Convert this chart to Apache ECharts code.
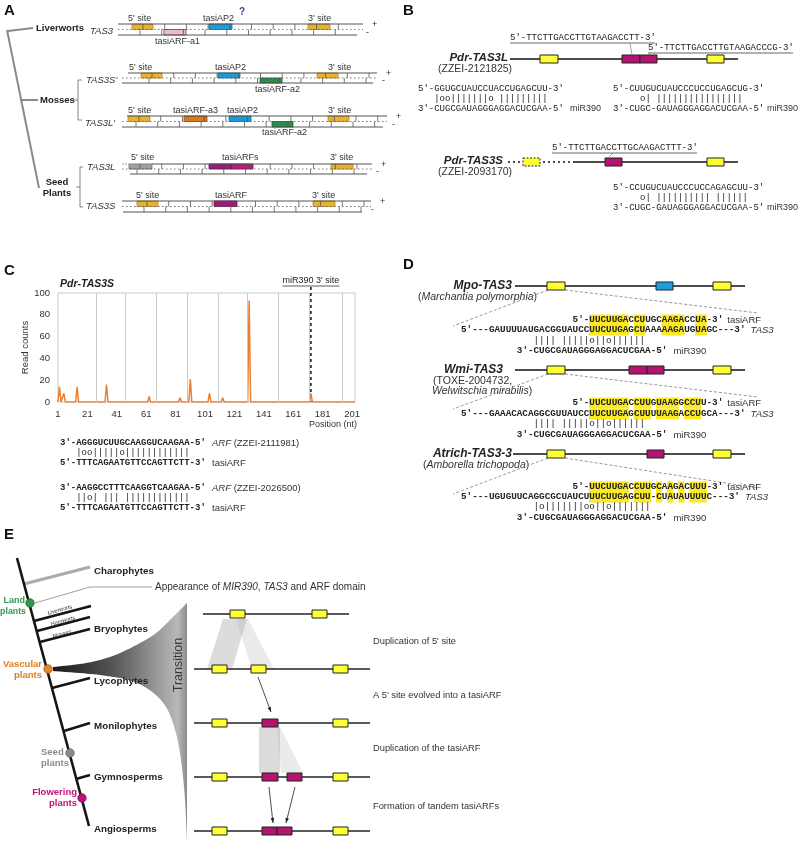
<!DOCTYPE html>
<html><head><meta charset="utf-8">
<script src="https://cdn.jsdelivr.net/npm/echarts@6/dist/echarts.min.js"></script>
<style>html,body{margin:0;padding:0;background:#fff}#c{width:799px;height:850px}</style>
</head><body><div id="c"></div>
<script>
// ---------------- Panel C data ----------------
const chartTitle = 'Pdr-TAS3S';
const positions  = [1,2,3,4,5,6,8,9,10,13,14,15,33,34,35,62,63,64,83,84,85,90,91,92,103,104,105,112,113,114,130,131,132,151,152,153,172,173,174,203];
const readCounts = [0,14,0,0,8,0,0,1,0,0,14,0,0,16,0,0,5,0,0,4,0,0,21,0,0,8,0,0,4,0,0,93,0,0,1,0,0,8,0,0];
const xMin = 1, xMax = 203, xStep = 20;
const yMin = 0, yMax = 100, yStep = 20;
const gridPositions = [27,47,68,89,110,130,151,172,194];
const mir390Site = 173;

// ---------------- sequences ----------------
const seqB = {
  tasiL1: "5'-TTCTTGACCTTGTAAGACCTT-3'",
  tasiL2: "5'-TTCTTGACCTTGTAAGACCCG-3'",
  tasiS:  "5'-TTCTTGACCTTGCAAGACTTT-3'",
  a1: ["5'-GGUGCUAUCCUACCUGAGCUU-3'", "|oo|||||||o |||||||||", "3'-CUGCGAUAGGGAGGACUCGAA-5'"],
  a2: ["5'-CUUGUCUAUCCCUCCUGAGCUG-3'", "o| ||||||||||||||||", "3'-CUGC-GAUAGGGAGGACUCGAA-5'"],
  a3: ["5'-CCUGUCUAUCCCUCCAGAGCUU-3'", "o| |||||||||| ||||||", "3'-CUGC-GAUAGGGAGGACUCGAA-5'"]
};
const seqC = [
  ["3'-AGGGUCUUGCAAGGUCAAGAA-5'", "|oo|||||o||||||||||||", "5'-TTTCAGAATGTTCCAGTTCTT-3'", "(ZZEI-2111981)"],
  ["3'-AAGGCCTTTCAAGGTCAAGAA-5'", "||o| ||| ||||||||||||", "5'-TTTCAGAATGTTCCAGTTCTT-3'", "(ZZEI-2026500)"]
];
const mir390 = "3'-CUGCGAUAGGGAGGACUCGAA-5'";
const seqD = [
  {arf:"UUCUUGACCUUGCAAGACCUA", pre:"GAUUUUAUGACGGUAUCC", al:"UUCUUGAGCUAAAAAGAUGUA", suf:"GC---3'", pair:"|||| |||||o||o||||||"},
  {arf:"UUCUUGACCUUGUAAGGCCUU", pre:"GAAACACAGGCGUUAUCC", al:"UUCUUGAGCUUUUAAGACCUG", suf:"CA---3'", pair:"|||| |||||o||o||||||"},
  {arf:"UUCUUGACCUUGCAAGACUUU", pre:"UGUGUUCAGGCGCUAUCU", al:"UUCUUGAGCUU-CUAUAUUUU", suf:"C---3'",  pair:"|o|||||||oo||o|||||||"}
];

// ---------------- helpers ----------------
const SANS = 'Liberation Sans', MONO = 'Liberation Mono';
const G = [];
function ln(x1,y1,x2,y2,stroke,lw,dash){G.push({type:'line',silent:true,shape:{x1,y1,x2,y2},style:{stroke:stroke||'#000',lineWidth:lw||1,lineDash:dash||null}});}
function rc(x,y,w,h,fill,stroke,lw,dash){G.push({type:'rect',silent:true,shape:{x,y,width:w,height:h},style:{fill:fill||'none',stroke:stroke||null,lineWidth:lw||1,lineDash:dash||null}});}
function pg(points,fill){G.push({type:'polygon',silent:true,shape:{points},style:{fill}});}
function cc(cx,cy,r,fill,stroke){G.push({type:'circle',silent:true,shape:{cx,cy,r},style:{fill,stroke,lineWidth:0.8}});}
function tx(x,y,s,o){
  o=o||{};
  const st={text:s,x:0,y:0,fontFamily:o.ff||SANS,fontSize:o.fs||10,fontWeight:o.fw||'normal',fontStyle:o.fst||'normal',
    fill:o.c||'#222',textAlign:o.al||'left',align:o.al||'left',textVerticalAlign:'middle',verticalAlign:'middle'};
  if(o.rich) st.rich=o.rich;
  G.push({type:'text',silent:true,x,y,rotation:o.rot||0,style:st});
}
function rich(fs,c,fw){return {n:{fontFamily:SANS,fontSize:fs,fill:c,fontWeight:fw||'normal'},
  i:{fontFamily:SANS,fontSize:fs,fill:c,fontStyle:'italic',fontWeight:fw||'normal'}};}
function arrow(x1,y1,x2,y2){
  ln(x1,y1,x2,y2,'#222',0.8);
  const a=Math.atan2(y2-y1,x2-x1),L=5,W=1.8,c=Math.cos(a),s=Math.sin(a);
  pg([[x2,y2],[x2-L*c+W*s,y2-L*s-W*c],[x2-L*c-W*s,y2-L*s+W*c]],'#222');
}
// Catmull-Rom smoothing of an outline
function smooth(pts,n){const out=[];for(let i=0;i<pts.length-1;i++){const p0=pts[Math.max(i-1,0)],p1=pts[i],p2=pts[i+1],p3=pts[Math.min(i+2,pts.length-1)];
  for(let k=0;k<n;k++){const t=k/n,t2=t*t,t3=t2*t;
    out.push([0.5*((2*p1[0])+(-p0[0]+p2[0])*t+(2*p0[0]-5*p1[0]+4*p2[0]-p3[0])*t2+(-p0[0]+3*p1[0]-3*p2[0]+p3[0])*t3),
              0.5*((2*p1[1])+(-p0[1]+p2[1])*t+(2*p0[1]-5*p1[1]+4*p2[1]-p3[1])*t2+(-p0[1]+3*p1[1]-3*p2[1]+p3[1])*t3)]);}}
  out.push(pts[pts.length-1]);return out;}

// panel labels
[['A',4,11],['B',403,11],['C',4,271],['D',403,265],['E',4,535]].forEach(p=>tx(p[1],p[2],p[0],{fs:15,fw:'bold',c:'#111'}));

// ---------------- Panel A ----------------
const AC = {
  Y:['#e8b22e','#b98a1c'], BL:['#1d9bd7','#136f9e'], PK:['#ebbcc6','#7a4050'], GR:['#2e8b4a','#1c5f31'],
  OR:['#d67a1e','#955010'], GY:['#a0a0a0','#707070'], M1:['#9b1b7e','#6a0f56'], M2:['#c0187f','#7a0f55'], MS:['#a0197f','#6a0f56']
};
const gA = '#8a8a8a';
ln(7,30,39,188,gA,2); ln(8,31,33,28,gA,2); ln(21,100,38,100,gA,2);
tx(36,28,'Liverworts',{fs:9.5,fw:'bold'});
tx(40,100,'Mosses',{fs:9.5,fw:'bold'});
tx(57,182,'Seed',{fs:9.5,fw:'bold',al:'center'}); tx(57,193,'Plants',{fs:9.5,fw:'bold',al:'center'});
ln(72,100,78,100,'#666',0.8); ln(78,80,78,120,'#666',0.8); ln(78,80,82,80,'#666',0.8); ln(78,120,82,120,'#666',0.8);
ln(76,187,80,187,'#666',0.8); ln(80,167,80,207,'#666',0.8); ln(80,167,83,167,'#666',0.8); ln(80,207,83,207,'#666',0.8);

const rowsA = [
 {name:'TAS3',nx:90,ny:31,yt:24,yb:35,t:[118,363],b:[118,357],ts:143,
  boxes:[[132,153,'t','Y'],[209,232,'t','BL'],[164,186,'b','PK'],[308,330,'t','Y']],
  labels:[["5' site",128,19],['tasiAP2',203,19],["3' site",308,19],['tasiARF-a1',155,42]]},
 {name:"TAS3S'",nx:86,ny:80,yt:73,yb:83,t:[128,377],b:[122,373],ts:152,
  boxes:[[141,162,'t','Y'],[218,240,'t','BL'],[260,282,'b','GR'],[317,338,'t','Y']],
  labels:[["5' site",129,68],['tasiAP2',215,68],["3' site",328,68],['tasiARF-a2',255,90]]},
 {name:"TAS3L'",nx:85,ny:123,yt:116,yb:127,t:[127,387],b:[122,383],ts:139,
  boxes:[[128,150,'t','Y'],[184,207,'t','OR'],[229,251,'t','BL'],[272,293,'b','GR'],[328,349,'t','Y']],
  labels:[["5' site",128,111],['tasiARF-a3',173,111],['tasiAP2',227,111],["3' site",328,111],['tasiARF-a2',262,133]]},
 {name:'TAS3L',nx:87,ny:167,yt:164,yb:174,t:[152,372],b:[130,367],ts:140,dashStart:122,
  boxes:[[129,152,'t','GY'],[209,231,'t','M1'],[231,253,'t','M2'],[331,353,'t','Y']],
  labels:[["5' site",131,158],['tasiARFs',222,158],["3' site",330,158]]},
 {name:'TAS3S',nx:86,ny:206,yt:201,yb:212,t:[122,371],b:[123,362],ts:147,
  boxes:[[137,158,'t','Y'],[214,237,'t','MS'],[313,335,'t','Y']],
  labels:[["5' site",136,196],['tasiARF',215,196],["3' site",312,196]]}
];
rowsA.forEach(r=>{
  const ym=(r.yt+r.yb)/2, h=(r.yb-r.yt)/2;
  r.boxes.forEach(b=>{const col=AC[b[3]];rc(b[0],b[2]==='t'?r.yt:ym,b[1]-b[0],h,col[0],col[1],0.8);});
  if(r.dashStart) ln(r.dashStart,r.yt,r.t[0],r.yt,'#aaa',1,[2,1]);
  ln(r.t[0],r.yt,r.t[1],r.yt,'#555',1);
  ln(r.b[0],r.yb,r.b[1],r.yb,'#555',1);
  ln(Math.min(r.t[0],r.b[0],r.dashStart||999),ym,Math.max(r.t[1],r.b[1]),ym,'#555',0.8,[1.5,2.5]);
  for(let x=r.ts;x<r.t[1]-4;x+=21.7){ln(x,r.yt,x,ym,'#555',0.8); if(x-3>r.b[0]&&x-3<r.b[1]) ln(x-3,ym,x-3,r.yb,'#555',0.8);}
  r.labels.forEach(l=>tx(l[1],l[2],l[0],{fs:9,c:'#333'}));
  tx(r.nx,r.ny,r.name,{fs:9.5,fst:'italic',c:'#333'});
  tx(r.t[1]+9,r.yt+1,'+',{fs:9,c:'#333'}); tx(r.b[1]+9,r.yb-2,'-',{fs:9,c:'#333'});
});
tx(239,12,'?',{fs:10,fw:'bold',c:'#4b3b9a'});

// ---------------- Panel B ----------------
const YEL='#ffff33', MAG='#b3146f', BLU='#1e9fdc', MONOFS=9, CW=MONOFS*0.6;
function gbox(x0,x1,y,fill,dash){rc(x0,y-4,x1-x0,8,fill,'#222',1,dash||null);}
function mono(x,y,s,o){o=o||{};tx(x,y,s,{ff:MONO,fs:o.fs||MONOFS,fw:o.fw||'normal',c:o.c||'#222'});}
tx(508,58,'Pdr-TAS3L',{fs:11.5,fw:'bold',fst:'italic',al:'right'});
tx(438,69,'(ZZEI-2121825)',{fs:10.5,c:'#333'});
ln(510,59,738,59,'#111',1.5);
gbox(540,558,59,YEL); gbox(622,640,59,MAG); gbox(640,657,59,MAG); gbox(707,724,59,YEL);
mono(510,38,seqB.tasiL1); ln(510,43,655,43,'#999',1.5); ln(630,43,632,55,'#888',0.8);
mono(648,48,seqB.tasiL2); ln(648,53,793,53,'#999',1.5); ln(650,53,648,55,'#888',0.8);
function align3(x,y,a,lab,labx){mono(x,y,a[0]); mono(x+(a===seqB.a1?3:5)*CW,y+10,a[1]); mono(x,y+20,a[2]); tx(labx,y+20,lab,{fs:9,c:'#333'});}
align3(418,89,seqB.a1,'miR390',570);
align3(613,89,seqB.a2,'miR390',767);
tx(503,161,'Pdr-TAS3S',{fs:11.5,fw:'bold',fst:'italic',al:'right'});
tx(438,172,'(ZZEI-2093170)',{fs:10.5,c:'#333'});
ln(508,162,573,162,'#111',1.5,[2,3]);
gbox(523,540,162,YEL,[2,1.5]);
ln(573,162,738,162,'#111',1.5);
gbox(605,622,162,MAG); gbox(707,724,162,YEL);
mono(552,148,seqB.tasiS); ln(552,153,697,153,'#999',1.5); ln(613,153,608,158,'#888',0.8);
align3(613,188,seqB.a3,'miR390',767);

// ---------------- Panel C text ----------------
tx(60,284,chartTitle,{fs:10.5,fw:'bold',fst:'italic'});
tx(357,425,'Position (nt)',{fs:9,c:'#333',al:'right'});
seqC.forEach((s,k)=>{const y=443+k*45;
  mono(60,y,s[0],{fw:'bold'}); mono(60+3*CW,y+10,s[1]); mono(60,y+20,s[2],{fw:'bold'});
  tx(212,y,'{i|ARF} {n|'+s[3]+'}',{fs:9.5,rich:rich(9.5,'#333')});
  tx(212,y+20,'tasiARF',{fs:9.5,c:'#333'});
});

// ---------------- Panel D ----------------
const DFS=9.3, DCW=DFS*0.6, HL='#fbe923';
const dBlocks=[
 {name:'Mpo-TAS3',nameX:512,nameY:286,sub:[['{n|(}{i|Marchantia polymorphia}{n|)}',418,297]],gy:286,gx0:515,
  boxes:[[547,565,YEL],[656,673,BLU],[713,731,YEL]],arfY:320,tasY:330,pairY:341,mirY:351,zl:326,zr:313},
 {name:'Wmi-TAS3',nameX:503,nameY:370,sub:[['{n|(TOXE-2004732,}',433,381],['{i|Welwitschia mirabilis}{n|)}',432,391]],gy:370,gx0:515,
  boxes:[[547,565,YEL],[629,647,MAG],[647,664,MAG],[713,731,YEL]],arfY:403,tasY:414,pairY:424,mirY:435,zl:409,zr:397},
 {name:'Atrich-TAS3-3',nameX:512,nameY:454,sub:[['{n|(}{i|Amborella trichopoda}{n|)}',423,465]],gy:454,gx0:513,
  boxes:[[547,565,YEL],[647,664,MAG],[713,731,YEL]],arfY:487,tasY:497,pairY:507,mirY:518,zl:494,zr:488}
];
dBlocks.forEach((b,k)=>{
  const s=seqD[k], tasX=461, arfX=tasX+20*DCW;
  tx(b.nameX,b.nameY,b.name,{fs:12,fw:'bold',fst:'italic',al:'right'});
  b.sub.forEach(t=>tx(t[1],t[2],t[0],{fs:10.5,rich:rich(10.5,'#333')}));
  ln(548,b.gy+4,453,b.zl,'#999',1,[3,2]); ln(565,b.gy+4,758,b.zr,'#999',1,[3,2]);
  ln(b.gx0,b.gy,745,b.gy,'#111',1.5);
  b.boxes.forEach(x=>gbox(x[0],x[1],b.gy,x[2]));
  for(let i=0;i<s.arf.length;i++){ if(s.arf[i]===s.al[i]){
    const x=tasX+(23+i)*DCW-0.3; rc(x,b.arfY-5.5,DCW+0.6,11,HL,null,0); rc(x,b.tasY-5.5,DCW+0.6,11,HL,null,0);} }
  const arfLine="5'-"+s.arf+"-3'", tasLine="5'---"+s.pre+s.al+s.suf;
  mono(arfX,b.arfY,arfLine,{fs:DFS,fw:'bold'});
  mono(tasX,b.tasY,tasLine,{fs:DFS,fw:'bold'});
  mono(tasX+13*DCW,b.pairY,s.pair,{fs:DFS});
  mono(tasX+10*DCW,b.mirY,mir390,{fs:DFS,fw:'bold'});
  tx(arfX+arfLine.length*DCW+4,b.arfY,'tasiARF',{fs:9.5,c:'#333'});
  tx(tasX+tasLine.length*DCW+5,b.tasY,'TAS3',{fs:9.5,fst:'italic',c:'#333'});
  tx(tasX+10*DCW+mir390.length*DCW+6,b.mirY,'miR390',{fs:9.5,c:'#333'});
});

// ---------------- Panel E ----------------
// transition wedge
const upperEdge=[[53,667],[80,664],[100,660],[120,653],[140,643],[155,634],[167,623],[177,613],[187,603]];
const lowerEdge=[[187,842],[185,800],[182,768],[178,742],[172,720],[166,707],[158,697],[148,689],[135,682],[120,678],[100,675],[80,673],[53,671]];
pg(smooth(upperEdge,6).concat(smooth(lowerEdge,6)),{type:'linear',x:0,y:0,x2:1,y2:0,colorStops:[
  {offset:0,color:'#1a1a1a'},{offset:0.45,color:'#555'},{offset:0.78,color:'#9a9a9a'},{offset:0.93,color:'#b8b8b8'},{offset:1,color:'#8c8c8c'}]});
tx(179,665,'Transition',{fs:12.5,c:'#3a3a3a',al:'center',rot:Math.PI/2});
// tree
ln(24,584,90,567,'#aaa',3);
ln(35,603,90,587,'#888',0.8); ln(90,587,152,587,'#888',0.8);
tx(155,587,'{n|Appearance of }{i|MIR390}{n|, }{i|TAS3}{n| and ARF domain}',{fs:10,rich:rich(10,'#333')});
const TK='#151515';
ln(17,558,89,826,TK,2.6);
[[34,621,91,606],[37,631,90,617],[40,642,90,629],[52,688,90,678],[64,731,90,723],[76,779,90,775]].forEach(b=>ln(b[0],b[1],b[2],b[3],TK,2.6));
tx(60,610,'Liverworts',{fs:5.5,c:'#333',al:'center',rot:0.26});
tx(63,621,'Hornworts',{fs:5.5,c:'#333',al:'center',rot:0.26});
tx(62,634,'Mosses',{fs:5.5,c:'#333',al:'center',rot:0.26});
[['Charophytes',571],['Bryophytes',629],['Lycophytes',681],['Monilophytes',726],['Gymnosperms',777],['Angiosperms',829]]
  .forEach(t=>tx(94,t[1],t[0],{fs:9.8,fw:'bold',c:'#222'}));
cc(30,603,4.2,'#2e9a4e','#1d6b35'); cc(48,669,4.2,'#e0892a','#a55f15'); cc(70,753,4.2,'#8f8a86','#625e5b'); cc(82,798,4.2,'#c0127a','#850c55');
tx(25,601,'Land',{fs:9,fw:'bold',c:'#2e9a4e',al:'right'}); tx(26,612,'plants',{fs:8.8,fw:'bold',c:'#2e9a4e',al:'right'});
tx(42,664,'Vascular',{fs:9.5,fw:'bold',c:'#e07b20',al:'right'}); tx(42,675,'plants',{fs:9.5,fw:'bold',c:'#e07b20',al:'right'});
tx(41,752,'Seed',{fs:9.5,fw:'bold',c:'#8f8a86'}); tx(41,763,'plants',{fs:9.5,fw:'bold',c:'#8f8a86'});
tx(77,792,'Flowering',{fs:9.5,fw:'bold',c:'#c0127a',al:'right'}); tx(77,803,'plants',{fs:9.5,fw:'bold',c:'#c0127a',al:'right'});
// evolution rows
pg([[223,619],[247,619],[232,669],[207,669]],'rgba(150,150,150,0.33)');
pg([[236,619],[248,619],[274,669],[252,669]],'rgba(170,170,170,0.25)');
pg([[259,727],[280,727],[280,773],[259,773]],'rgba(150,150,150,0.33)');
pg([[277,727],[280,727],[303,773],[281,773]],'rgba(170,170,170,0.25)');
const rowsE=[
 {y:614,x0:203,x1:349,boxes:[[230,245,YEL],[312,327,YEL]]},
 {y:669,x0:194,x1:370,boxes:[[212,227,YEL],[251,266,YEL],[333,348,YEL]]},
 {y:723,x0:194,x1:370,boxes:[[212,227,YEL],[262,278,MAG],[333,348,YEL]]},
 {y:777,x0:194,x1:370,boxes:[[212,227,YEL],[262,278,MAG],[287,302,MAG],[333,348,YEL]]},
 {y:831,x0:194,x1:370,boxes:[[212,227,YEL],[262,277,MAG],[277,292,MAG],[333,348,YEL]]}
];
rowsE.forEach(r=>{ln(r.x0,r.y,r.x1,r.y,'#222',1.5); r.boxes.forEach(b=>gbox(b[0],b[1],r.y,b[2]));});
arrow(258,677,271,712); arrow(269,787,273,823); arrow(295,787,286,823);
[["Duplication of 5' site",641],['A 5\' site evolved into a tasiARF',695],['Duplication of the tasiARF',748],['Formation of tandem tasiARFs',806]]
  .forEach(t=>tx(373,t[1],t[0],{fs:9.3,c:'#333'}));

// ---------------- chart ----------------
const chart = echarts.init(document.getElementById('c'), null, {renderer:'canvas'});
chart.setOption({
  backgroundColor:'#fff', animation:false,
  grid:{left:58,right:444,top:293,bottom:448,show:true,borderColor:'#c9c9c9',borderWidth:1,backgroundColor:'transparent'},
  xAxis:{type:'value',min:xMin,max:xMax,interval:xStep,
    axisLine:{show:false},axisTick:{show:false},splitLine:{show:false},
    axisLabel:{margin:7,fontSize:9.5,color:'#333',fontFamily:SANS,formatter:v=>((v-xMin)%xStep===0?String(v):'')}},
  yAxis:{type:'value',min:yMin,max:yMax,interval:yStep,
    axisLine:{show:false},axisTick:{show:false},splitLine:{show:false},
    axisLabel:{margin:8,fontSize:9.5,color:'#333',fontFamily:SANS},
    name:'Read counts',nameLocation:'middle',nameGap:28,nameTextStyle:{fontSize:9.5,color:'#333',fontFamily:SANS}},
  series:[{type:'line',data:positions.map((p,i)=>[p,readCounts[i]]),showSymbol:false,symbol:'none',
    lineStyle:{color:'#ED7D31',width:1.5},itemStyle:{color:'#ED7D31'},z:3,
    markLine:{silent:true,symbol:'none',label:{show:false},lineStyle:{color:'#c9c9c9',type:'solid',width:1},
      data:gridPositions.map(v=>({xAxis:v}))}}]
});
const mx = chart.convertToPixel({xAxisIndex:0}, mir390Site);
const y0 = chart.convertToPixel({yAxisIndex:0}, yMin);
ln(mx,287,mx,y0,'#111',1.5,[3,3]);
tx(mx,281,"miR390 3' site",{fs:9,c:'#222',al:'center'});
ln(mx-28.5,286,mx+28.5,286,'#333',0.8);
chart.setOption({graphic:{elements:G}});
</script></body></html>
